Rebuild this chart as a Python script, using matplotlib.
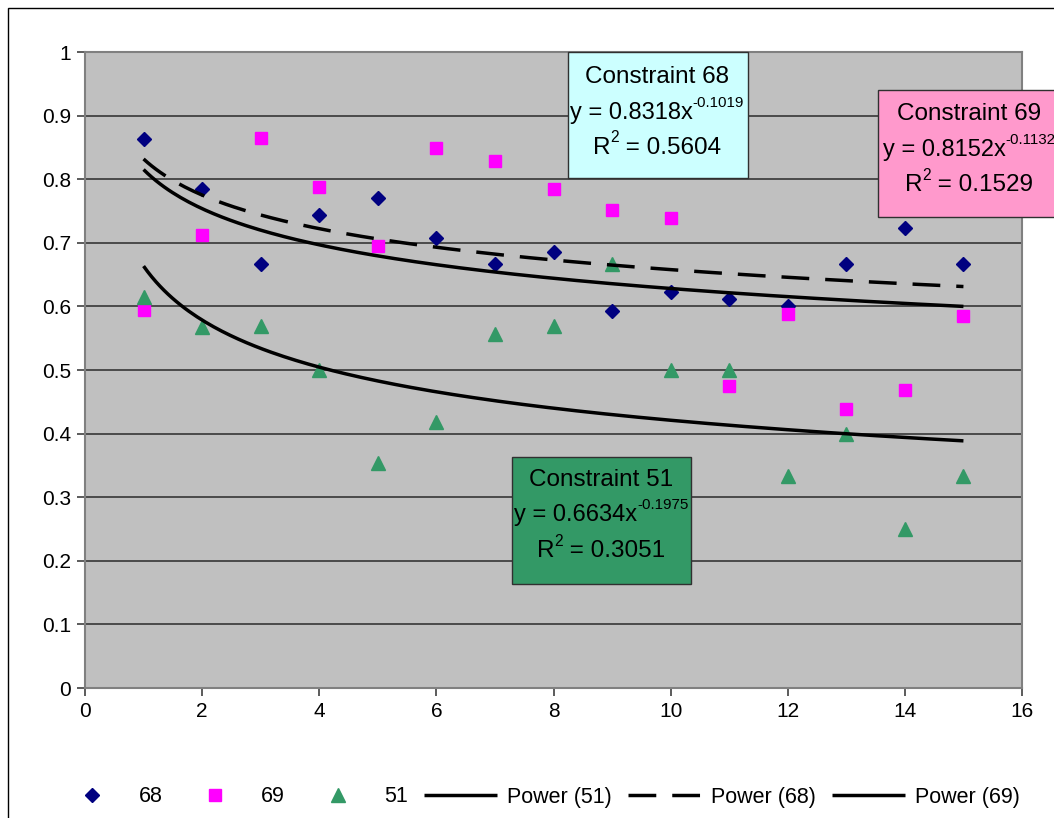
import numpy as np
import matplotlib
matplotlib.use("Agg")
import matplotlib.pyplot as plt
from matplotlib.patches import Rectangle

plt.rcParams['font.family'] = ['Liberation Sans', 'DejaVu Sans']

# data
runs = [1, 2, 3, 4, 5, 6, 7, 8, 9, 10, 11, 12, 13, 14, 15]
c68 = [0.863, 0.784, 0.667, 0.744, 0.770, 0.707, 0.667, 0.686, 0.593, 0.623,
       0.612, 0.601, 0.667, 0.723, 0.667]
c69 = [0.595, 0.712, 0.865, 0.788, 0.695, 0.849, 0.829, 0.785, 0.752, 0.739,
       0.475, 0.588, 0.439, 0.469, 0.585]
c51 = [0.615, 0.567, 0.569, 0.500, 0.354, 0.418, 0.556, 0.569, 0.667, 0.500,
       0.500, 0.333, 0.400, 0.250, 0.333]

# power trendlines y = a * x^b as printed on the chart
fit_names = ['51', '68', '69']
fit_a = [0.6634, 0.8318, 0.8152]
fit_b = [-0.1975, -0.1019, -0.1132]
fit_r2 = ['0.3051', '0.5604', '0.1529']

y_ticks = [0, 0.1, 0.2, 0.3, 0.4, 0.5, 0.6, 0.7, 0.8, 0.9, 1]
y_labels = ['0', '0.1', '0.2', '0.3', '0.4', '0.5', '0.6', '0.7', '0.8', '0.9', '1']
x_ticks = [0, 2, 4, 6, 8, 10, 12, 14, 16]

W, H = 1054, 818
fig = plt.figure(figsize=(W / 100, H / 100), dpi=100)
ax = fig.add_axes([85 / W, 1 - 688 / H, (1022 - 85) / W, (688 - 52) / H])
ax.set_facecolor('#C0C0C0')

# outer chart border
fig.patches.append(Rectangle((8 / W, -0.1), 1.2, 1.1 - 8 / H, transform=fig.transFigure,
                             fill=False, edgecolor='black', linewidth=1))

ax.set_xlim(0, 16)
ax.set_ylim(0, 1)
ax.set_yticks(y_ticks)
ax.set_yticklabels(y_labels)
ax.set_xticks(x_ticks)
ax.yaxis.grid(True, color='#2a2a2a', linewidth=1.1)
ax.set_axisbelow(True)
for s in ax.spines.values():
    s.set_color('#808080')
    s.set_linewidth(1.5)
ax.tick_params(direction='out', length=6, width=1.2, color='#404040',
               labelsize=15, pad=4)

ax.plot(runs, c68, 'D', color='#000080', ms=7.6, mec='#000080', label='68', zorder=3)
ax.plot(runs, c69, 's', color='#FF00FF', ms=8.5, mec='#FF00FF', label='69', zorder=3)
ax.plot(runs, c51, '^', color='#339966', ms=10, mec='#339966', label='51', zorder=3)

xs = np.linspace(runs[0], runs[-1], 200)
styles = {'51': dict(ls='-'), '68': dict(dashes=(8, 4.6)), '69': dict(ls='-')}
for name, a, b in zip(fit_names, fit_a, fit_b):
    ax.plot(xs, a * xs ** b, color='black', lw=2.5, label=f'Power ({name})',
            solid_capstyle='butt', dash_capstyle='butt', zorder=4, **styles[name])

# equation boxes
boxes = [
    ('68', '#CCFFFF', (568, 52, 748, 178), 657, (77, 113, 148)),
    ('69', '#FF99CC', (878, 90, 1070, 217), 969, (114, 150, 185)),
    ('51', '#339966', (512, 457, 691, 584), 601, (480, 515, 551)),
]
renderer = fig.canvas.get_renderer()


def sup_line(cx, yy, parts, size):
    # parts: list of (text, is_superscript); centred as one piece at cx
    arts = []
    for txt, sup in parts:
        fs = size * 0.64 if sup else size
        dy = 10 if sup else 0
        t = fig.text(0, 1 - (yy - dy) / H, txt, ha='left', va='center', fontsize=fs, zorder=6)
        arts.append(t)
    widths = [t.get_window_extent(renderer).width for t in arts]
    x = cx - sum(widths) / 2
    for t, w in zip(arts, widths):
        t.set_x(x / W)
        x += w


for name, col, (x0, y0, x1, y1), cx, ys in boxes:
    i = fit_names.index(name)
    fig.patches.append(Rectangle((x0 / W, 1 - y1 / H), (x1 - x0) / W, (y1 - y0) / H,
                                 transform=fig.transFigure, facecolor=col,
                                 edgecolor='#303030', linewidth=1, zorder=5))
    fig.text(cx / W, 1 - ys[0] / H, f'Constraint {name}', ha='center', va='center',
             fontsize=17.5, zorder=6)
    sup_line(cx, ys[1], [(f'y = {fit_a[i]:.4f}x', False), (f'{fit_b[i]:.4f}', True)], 17)
    sup_line(cx, ys[2], [('R', False), ('2', True), (f' = {fit_r2[i]}', False)], 17.5)

handles, labels = ax.get_legend_handles_labels()
fig.legend(handles, labels, loc='center', bbox_to_anchor=(0.51, 1 - 797 / H), ncol=6,
           frameon=False, fontsize=15.5, handlelength=3.4, handletextpad=0.45,
           columnspacing=0.75, borderaxespad=0)

fig.savefig('out.png', dpi=100)
